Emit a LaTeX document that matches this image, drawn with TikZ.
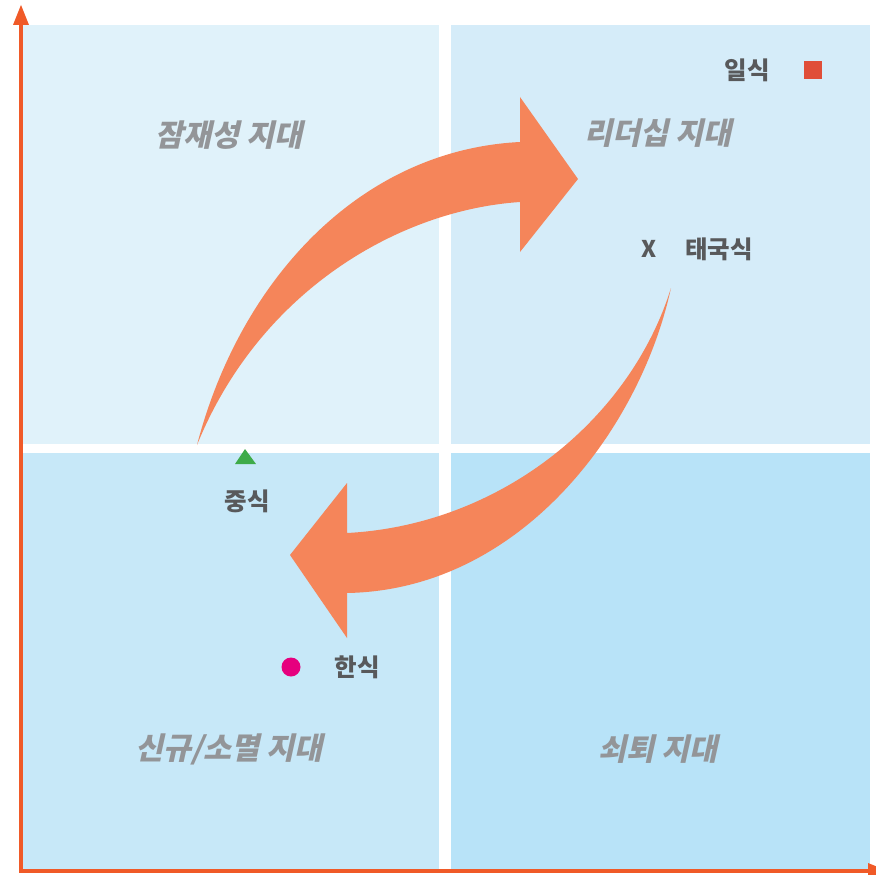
\documentclass[tikz,border=0pt]{standalone}
\usepackage{fontspec}
\newfontfamily\kr{Noto Sans CJK KR}
\newfontfamily\krsl{Noto Sans CJK KR}[FakeSlant=0.22]
\definecolor{qa}{HTML}{E0F2FA}
\definecolor{qb}{HTML}{D5ECF9}
\definecolor{qc}{HTML}{C7E8F8}
\definecolor{qd}{HTML}{B8E3F8}
\definecolor{axisc}{HTML}{F05A28}
\definecolor{arrc}{HTML}{F5855A}
\definecolor{txtd}{HTML}{58595B}
\definecolor{txtg}{HTML}{939598}
\definecolor{sqr}{HTML}{E04E39}
\definecolor{grn}{HTML}{3EAB49}
\definecolor{mag}{HTML}{E6007E}
\begin{document}
\begin{tikzpicture}[x=1pt,y=-1pt,
  zone/.style={font=\krsl\bfseries\fontsize{30.5}{32}\selectfont, text=txtg, inner sep=0pt},
  item/.style={font=\kr\bfseries\fontsize{24.5}{26}\selectfont, text=txtd, inner sep=0pt},
  bigarrow/.style={fill=arrc, draw=none}]
\useasboundingbox (0,0) rectangle (876,875);
% quadrants
\fill[qa] (23,25) rectangle (439,444);
\fill[qb] (451,25) rectangle (870,444);
\fill[qc] (23,453) rectangle (439,869);
\fill[qd] (451,453) rectangle (870,869);
% axes
\draw[axisc, line width=4pt] (21,871) -- (21,22);
\fill[axisc] (21,5) -- (29,25) -- (13,25) -- cycle;
\draw[axisc, line width=4pt] (19,871) -- (870,871);
\fill[axisc] (888,871) -- (868,863) -- (868,879) -- cycle;
% zone labels
\node[zone] (z1) at (229,135) {잠재성 지대};
\node[zone] (z2) at (658,133) {리더십 지대};
\node[zone] (z3) at (229,749) {신규/소멸 지대};
\node[zone] (z4) at (658,749) {쇠퇴 지대};
% curved arrows
\fill[bigarrow] (197,445) .. controls (240,280) and (360,150) .. (520,142) -- (520,97) -- (578,179) -- (520,252) -- (520,202) .. controls (400,210) and (260,290) .. (197,445) -- cycle;
\fill[bigarrow] (671,288) .. controls (630,420) and (500,525) .. (347,533) -- (347,483) -- (290,555) -- (347,638) -- (347,593) .. controls (520,590) and (640,430) .. (671,288) -- cycle;
% items
\node[item] (ilsik) at (747,70) {일식};
\fill[sqr] (804,61) rectangle (822,79);
\node[item, font=\kr\bfseries\fontsize{23}{24}\selectfont] (x) at (649,249) {X};
\node[item] (taeguk) at (719,249) {태국식};
\fill[grn] (245,449) -- (256,464) -- (235,464) -- cycle;
\node[item] (jung) at (247,501) {중식};
\fill[mag] (291,667) circle (9.5);
\node[item] (han) at (357,667) {한식};
\end{tikzpicture}
\end{document}
